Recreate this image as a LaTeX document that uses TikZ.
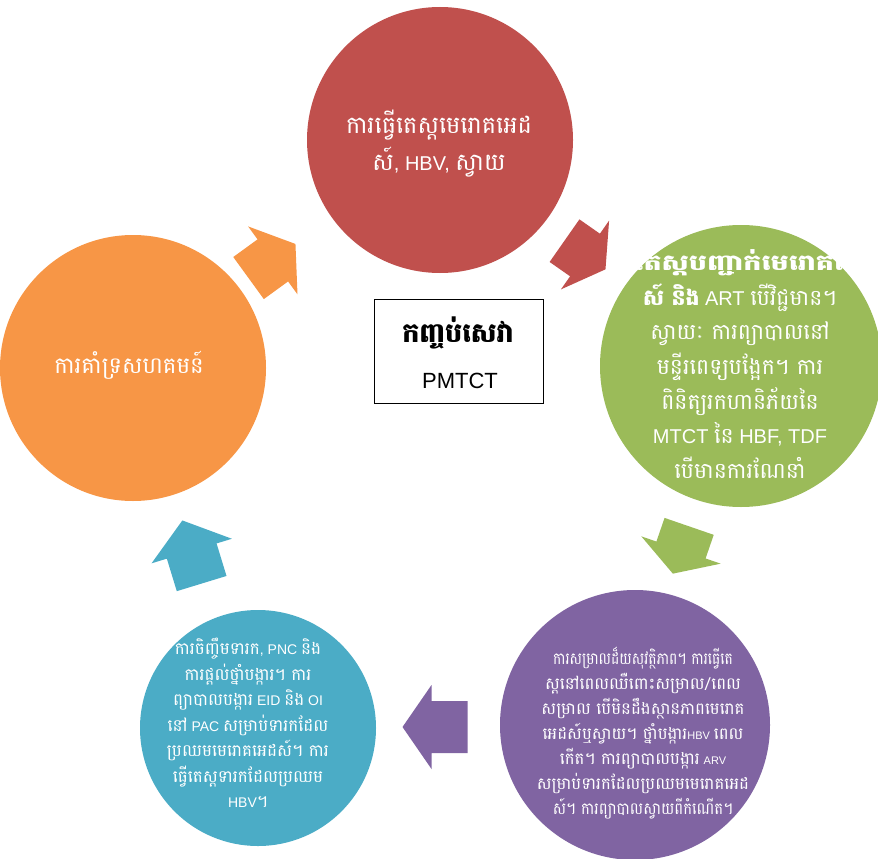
\documentclass[tikz,border=0pt]{standalone}
\usepackage{fontspec}
\setmainfont{Liberation Sans}
\newfontfamily\km[Script=Khmer,Scale=1.2]{Battambang}
\newfontfamily\kms[Script=Khmer,Scale=1.1]{Battambang}
\definecolor{cred}{HTML}{C0504D}
\definecolor{cgreen}{HTML}{9BBB59}
\definecolor{cpurple}{HTML}{8064A2}
\definecolor{cblue}{HTML}{4BACC6}
\definecolor{corange}{HTML}{F79646}
\newcommand{\cyclearrow}[5]{% center, angle, length, head, color
  \begin{scope}[shift={#1},rotate=#2]
    \fill[#5] (-#3/2,-26) -- (#3/2-#4,-26) -- (#3/2-#4,-42) -- (#3/2,0) -- (#3/2-#4,42) -- (#3/2-#4,26) -- (-#3/2,26) -- cycle;
  \end{scope}}
\newcommand{\smlat}[1]{{\fontsize{11}{25}\selectfont #1}}
\tikzset{
  circ/.style={circle, inner sep=0pt},
  ctext/.style={text=white, align=center, inner sep=0pt},
}
\begin{document}
\begin{tikzpicture}[x=1pt,y=-1pt]
\useasboundingbox (0,0) rectangle (878,859);
\clip (0,0) rectangle (878,859);
% circles
\fill[cred] (440,140) circle (133);
\fill[cgreen] (741,366) circle (141);
\fill[cpurple] (635,725) circle (135);
\fill[cblue] (258,728) circle (118);
\fill[corange] (133,368) circle (133);
\node[circ] (red) at (440,140) {};
\node[circ] (green) at (741,366) {};
\node[circ] (purple) at (635,725) {};
\node[circ] (blue) at (258,728) {};
\node[circ] (orange) at (133,368) {};
% arrows
\cyclearrow{(585,255)}{-35}{50}{25}{cred}
\cyclearrow{(681,550)}{-109}{50}{25}{cgreen}
\cyclearrow{(435,727)}{180}{65}{29}{cpurple}
\cyclearrow{(192,552)}{107}{66}{32}{cblue}
\cyclearrow{(272,261)}{36}{58}{28}{corange}
% texts
\node[ctext, font={\fontsize{20}{37}\selectfont\lineskiplimit=-100pt}] (tred) at (439,144)
  {{\km ការធ្វើតេស្តមេរោគអេដ}\\{\km ស៍}, HBV, {\km ស្វាយ}};
\node[ctext, font={\fontsize{20}{34.7}\selectfont\lineskiplimit=-100pt}] (tgreen) at (740,364)
  {\hspace*{34pt}\scalebox{1.3}[1]{\kms\bfseries តេស្តបញ្ជាក់មេរោគអេដ}\\
   {\kms\bfseries ស៍ និង} ART {\kms បើវិជ្ជមាន។}\\
   {\kms ស្វាយៈ ការព្យាបាលនៅ}\\
   {\kms មន្ទីរពេទ្យបង្អែក។ ការ}\\
   {\kms ពិនិត្យរកហានិភ័យនៃ}\\
   MTCT {\kms នៃ} HBF, TDF\\
   {\kms បើមានការណែនាំ}};
\node[ctext, font={\fontsize{13.8}{25}\selectfont\lineskiplimit=-100pt}] (tpurple) at (643,733)
  {\scalebox{0.84}[1]{\km ការសម្រាលដ៏យសុវត្ថិភាព។  ការធ្វើតេ}\\
   {\km ស្តនៅពេលឈឺពោះសម្រាល/ពេល}\\
   {\km សម្រាល បើមិនដឹងស្ថានភាពមេរោគ}\\
   {\km អេដស៍ឬស្វាយ។ ថ្នាំបង្ការ}\smlat{HBV} {\km ពេល}\\
   {\km កើត។ ការព្យាបាលបង្ការ} \smlat{ARV}\\
   {\km សម្រាប់ទារកដែលប្រឈមមេរោគអេដ}\\
   \scalebox{0.9}[1]{\km ស៍។ ការព្យាបាលស្វាយពីកំណើត។}};
\node[ctext, font={\fontsize{14}{25.5}\selectfont\lineskiplimit=-100pt}] (tblue) at (248,723)
  {{\km ការចិញ្ចឹមទារក}, PNC {\km និង}\\
   {\km ការផ្តល់ថ្នាំបង្ការ។ ការ}\\
   {\km ព្យាបាលបង្ការ} EID {\km និង} OI\\
   {\km នៅ} PAC {\km សម្រាប់ទារកដែល}\\
   {\km ប្រឈមមេរោគអេដស៍។ ការ}\\
   {\km ធ្វើតេស្តទារកដែលប្រឈម}\\
   HBV{\km ។}};
\node[ctext, font={\fontsize{19}{30}\selectfont}] (torange) at (129,365) {\km ការគាំទ្រសហគមន៍};
% center box
\node[draw=black, line width=1pt, fill=white, minimum width=169, minimum height=104, inner sep=0pt] (box) at (458.5,351) {};
\node[font={\fontsize{22.5}{30}\selectfont}] (boxkm) at (458,333) {\km\bfseries កញ្ចប់សេវា};
\node[font={\fontsize{22}{26}\selectfont}] (boxpm) at (460,381) {PMTCT};
\end{tikzpicture}
\end{document}
